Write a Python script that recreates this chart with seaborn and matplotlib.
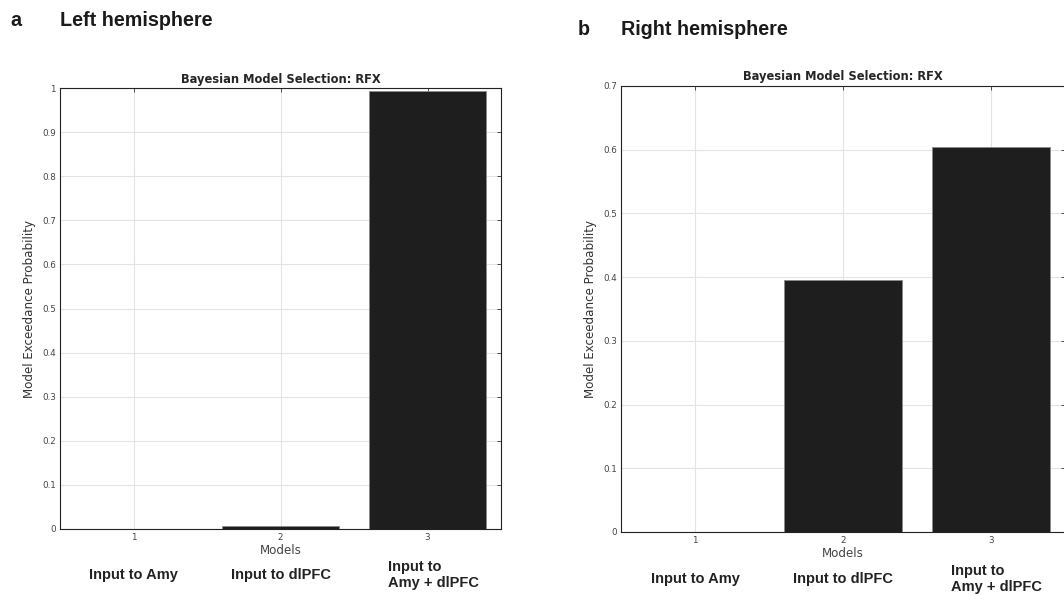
import matplotlib
matplotlib.use("Agg")
import matplotlib.pyplot as plt
import matplotlib.transforms as mtransforms
import pandas as pd
import seaborn as sns

# Data
models = [1, 2, 3]
left_prob = [0.0, 0.007, 0.993]
right_prob = [0.0, 0.395, 0.605]
model_names = ["Input to Amy", "Input to dlPFC", "Input to\nAmy + dlPFC"]
left_yticks = [0, 0.1, 0.2, 0.3, 0.4, 0.5, 0.6, 0.7, 0.8, 0.9, 1]
right_yticks = [0, 0.1, 0.2, 0.3, 0.4, 0.5, 0.6, 0.7]

sns.set_style("white")
plt.rcParams["font.family"] = ["DejaVu Sans"]

fig = plt.figure(figsize=(10.64, 5.95), dpi=100)
ax_l = fig.add_axes([0.0564, 0.111, 0.4145, 0.741])
ax_r = fig.add_axes([0.5836, 0.1059, 0.4173, 0.7496])


def draw_panel(ax, values, yticks, ymax):
    df = pd.DataFrame({"model": models, "prob": values})
    sns.barplot(data=df, x="model", y="prob", native_scale=True, color="#1e1e1e",
                saturation=1, width=0.8, edgecolor="#8a8a8a", linewidth=0.6, ax=ax,
                zorder=3)
    ax.set_xlim(0.5, 3.5)
    ax.set_ylim(0, ymax)
    ax.set_xticks(models)
    ax.set_xticklabels([str(m) for m in models])
    ax.set_yticks(yticks)
    ax.set_yticklabels(["%g" % t for t in yticks])
    ax.grid(True, color="#e3e3e3", linewidth=0.8, zorder=0)
    ax.set_axisbelow(True)
    ax.tick_params(axis="both", direction="in", length=3, width=0.6, labelsize=6.3,
                   labelcolor="#444444", color="#333333", top=True, right=True, pad=3)
    for s in ax.spines.values():
        s.set_visible(True)
        s.set_color("#222222")
        s.set_linewidth(0.8)
    ax.set_title("Bayesian Model Selection: RFX", fontsize=8.3, fontweight="bold", pad=4)
    ax.set_xlabel("Models", fontsize=8.6, color="#444444", labelpad=1)
    ax.set_ylabel("Model Exceedance Probability", fontsize=8.6, color="#333333", labelpad=4)
    trans = mtransforms.blended_transform_factory(ax.transData, ax.transAxes)
    for m, name in zip(models, model_names):
        ax.text(m + (0.04 if "\n" in name else 0), -0.105, name, transform=trans,
                ha="center", va="center", multialignment="left", fontsize=10.5,
                fontweight="bold", family="Liberation Sans", color="#222222",
                linespacing=1.2)


draw_panel(ax_l, left_prob, left_yticks, 1.0)
draw_panel(ax_r, right_prob, right_yticks, 0.7)

head = dict(fontsize=14.2, fontweight="bold", family="Liberation Sans",
            va="baseline", ha="left", color="#1a1a1a")
fig.text(0.0094, 0.956, "a", **head)
fig.text(0.0564, 0.956, "Left hemisphere", **head)
fig.text(0.5433, 0.941, "b", **head)
fig.text(0.5836, 0.941, "Right hemisphere", **head)

fig.savefig("out.png", dpi=100)
